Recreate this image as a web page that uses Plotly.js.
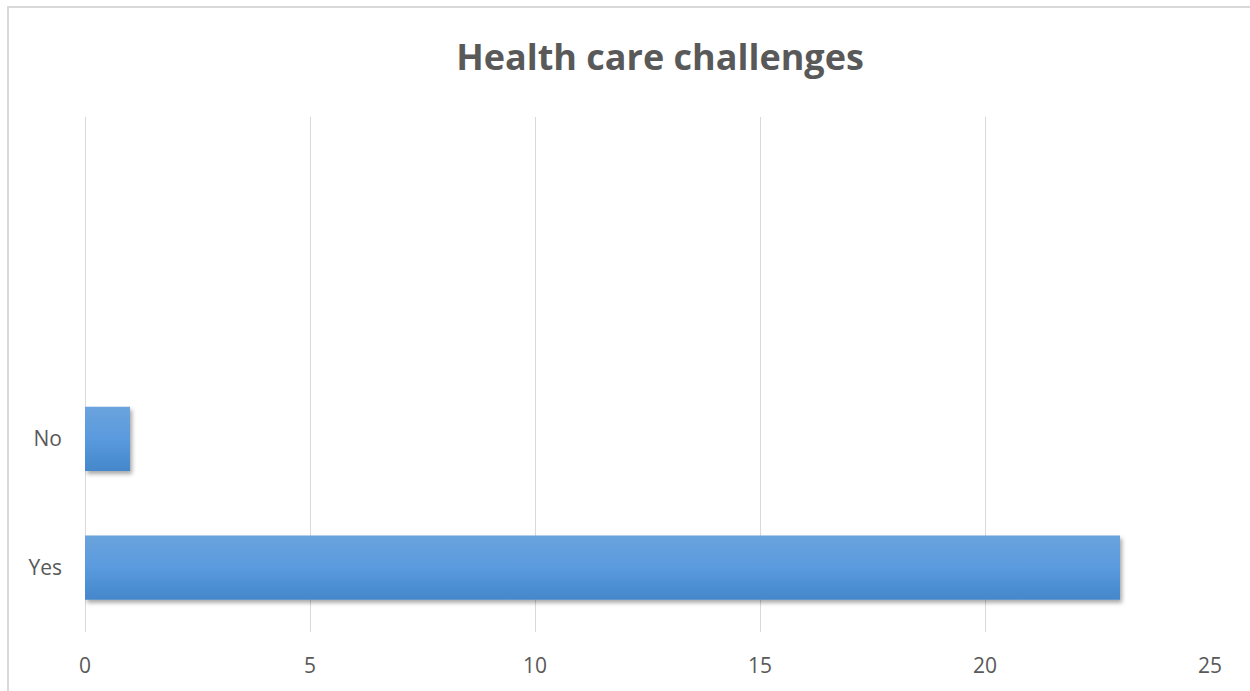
<!DOCTYPE html>
<html>
<head>
<meta charset="utf-8">
<script src="https://cdn.plot.ly/plotly-3.0.1.min.js"></script>
<style>
  html, body { margin: 0; padding: 0; background: #ffffff; overflow: hidden; }
  #frame {
    position: absolute; left: 7px; top: 6px;
    width: 1300px; height: 760px;
    border: 2px solid #d9d9d9; box-sizing: border-box;
  }
  #chart { position: absolute; left: 0; top: 0; width: 1250px; height: 691px; }
</style>
</head>
<body>
<div id="frame"></div>
<div id="chart"></div>
<script>
// Survey answers and respondent counts
const answers = ['Yes', 'No'];
const counts = [23, 1];
const xTicks = [0, 5, 10, 15, 20, 25];
const chartTitle = 'Health care challenges';

const textColor = '#595959';
const gridColor = '#d9d9d9';

const trace = {
  type: 'bar',
  orientation: 'h',
  y: answers,
  x: counts,
  width: 0.5,
  marker: { color: '#5596d8', line: { width: 0 } },
  hoverinfo: 'x+y'
};

const layout = {
  width: 1250,
  height: 691,
  margin: { l: 85, r: 40, t: 117, b: 59 },
  paper_bgcolor: 'rgba(0,0,0,0)',
  plot_bgcolor: 'rgba(0,0,0,0)',
  showlegend: false,
  title: {
    text: chartTitle,
    font: { family: 'Open Sans, sans-serif', size: 36, color: textColor, weight: 'bold' },
    x: 660 / 1250, xref: 'container', xanchor: 'center',
    y: 1 - 57 / 691, yref: 'container', yanchor: 'middle'
  },
  xaxis: {
    range: [0, 25],
    tickvals: xTicks,
    ticktext: xTicks.map(String),
    showgrid: true,
    gridcolor: gridColor,
    gridwidth: 1,
    zeroline: true,
    zerolinecolor: gridColor,
    zerolinewidth: 1,
    showline: false,
    ticks: '',
    ticklabelstandoff: 19,
    tickfont: { family: 'Open Sans, sans-serif', size: 21, color: textColor },
    fixedrange: true
  },
  yaxis: {
    type: 'category',
    categoryorder: 'array',
    categoryarray: answers,
    range: [-0.5, 3.5],
    showgrid: false,
    zeroline: false,
    showline: false,
    ticks: '',
    ticklabelstandoff: 22,
    tickfont: { family: 'Open Sans, sans-serif', size: 21, color: textColor },
    fixedrange: true
  }
};

// Vertical gradient fill and soft drop shadow on the bars
function styleBars(gd) {
  const svg = gd.querySelector('svg.main-svg');
  if (!svg) return;
  const ns = 'http://www.w3.org/2000/svg';
  let defs = svg.querySelector('defs');
  if (!defs) { defs = document.createElementNS(ns, 'defs'); svg.insertBefore(defs, svg.firstChild); }
  if (!svg.querySelector('#barGrad')) {
    const grad = document.createElementNS(ns, 'linearGradient');
    grad.setAttribute('id', 'barGrad');
    grad.setAttribute('x1', '0'); grad.setAttribute('y1', '0');
    grad.setAttribute('x2', '0'); grad.setAttribute('y2', '1');
    [['0%', '#6aa3dd'], ['50%', '#5a9ade'], ['100%', '#4487ca']].forEach(([o, c]) => {
      const s = document.createElementNS(ns, 'stop');
      s.setAttribute('offset', o); s.setAttribute('stop-color', c);
      grad.appendChild(s);
    });
    defs.appendChild(grad);

    const filt = document.createElementNS(ns, 'filter');
    filt.setAttribute('id', 'barShadow');
    filt.setAttribute('x', '-10%'); filt.setAttribute('y', '-20%');
    filt.setAttribute('width', '130%'); filt.setAttribute('height', '150%');
    const ds = document.createElementNS(ns, 'feDropShadow');
    ds.setAttribute('dx', '2'); ds.setAttribute('dy', '3');
    ds.setAttribute('stdDeviation', '2');
    ds.setAttribute('flood-color', '#000000');
    ds.setAttribute('flood-opacity', '0.35');
    filt.appendChild(ds);
    defs.appendChild(filt);
  }
  gd.querySelectorAll('.barlayer .point path').forEach(p => {
    p.style.fill = 'url(#barGrad)';
    p.style.filter = 'url(#barShadow)';
  });
}

const gd = document.getElementById('chart');
Plotly.newPlot(gd, [trace], layout, { displayModeBar: false, staticPlot: true }).then(() => {
  styleBars(gd);
  gd.on && gd.on('plotly_afterplot', () => styleBars(gd));
});
</script>
</body>
</html>
